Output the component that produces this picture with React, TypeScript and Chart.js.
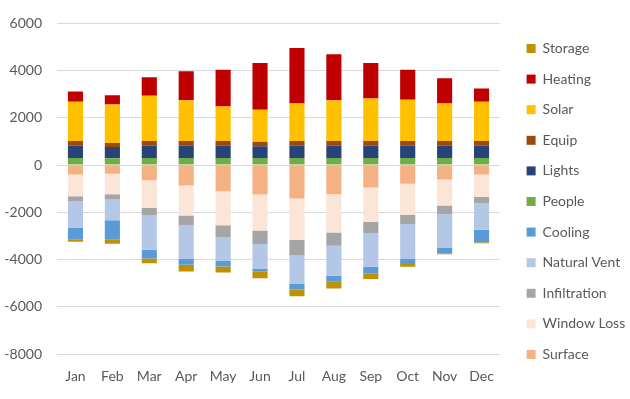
import React, { useEffect, useRef } from "react";
import { Chart, registerables } from "chart.js";
Chart.register(...registerables);

const months = ["Jan", "Feb", "Mar", "Apr", "May", "Jun", "Jul", "Aug", "Sep", "Oct", "Nov", "Dec"];

// Series in Excel order (stacking order from zero outward)
const surface = [-400, -370, -640, -865, -1105, -1250, -1420, -1235, -950, -795, -610, -400];
const windowLoss = [-920, -865, -1180, -1275, -1445, -1515, -1745, -1615, -1445, -1305, -1105, -950];
const infiltration = [-210, -225, -310, -410, -495, -580, -640, -565, -485, -400, -355, -255];
const naturalVent = [-1135, -880, -1460, -1405, -1020, -1035, -1235, -1275, -1420, -1460, -1445, -1135];
const cooling = [-500, -820, -370, -270, -225, -140, -225, -255, -285, -225, -215, -525];
const people = [300, 290, 300, 300, 300, 300, 300, 300, 300, 300, 300, 300];
const lights = [520, 480, 520, 520, 520, 500, 520, 520, 520, 520, 520, 520];
const equip = [200, 170, 200, 200, 200, 190, 200, 200, 200, 200, 200, 200];
const solar = [1660, 1630, 1915, 1730, 1460, 1350, 1590, 1730, 1800, 1745, 1590, 1660];
const heating = [440, 390, 780, 1220, 1560, 1985, 2350, 1940, 1500, 1275, 1065, 565];
const storage = [-85, -170, -200, -285, -255, -270, -285, -285, -240, -115, -45, -40];

const yTicks = [-8000, -6000, -4000, -2000, 0, 2000, 4000, 6000];

const FONT = "Lato";
const TEXT = "#595959";

const legendPlace = {
  id: "legendPlace",
  beforeLayout(chart: any) {
    const lg = chart.legend;
    if (lg && !lg.__patched) {
      const orig = lg.fit;
      lg.fit = function () {
        orig.call(this);
        this.width = 130;
      };
      lg.__patched = true;
    }
  },
  afterLayout(chart: any) {
    const lg = chart.legend;
    if (!lg) return;
    const dx = 10;
    const dy = -8;
    lg.left += dx;
    lg.right += dx;
    lg.top += dy;
    lg.bottom += dy;
  },
};

export default function App() {
  const ref = useRef<HTMLCanvasElement | null>(null);
  useEffect(() => {
    if (!ref.current) return;
    const series: [string, number[], string][] = [
      ["Surface", surface, "#F4B183"],
      ["Window Loss", windowLoss, "#FBE5D6"],
      ["Infiltration", infiltration, "#A5A5A5"],
      ["Natural Vent", naturalVent, "#B4C7E7"],
      ["Cooling", cooling, "#5B9BD5"],
      ["People", people, "#70AD47"],
      ["Lights", lights, "#264478"],
      ["Equip", equip, "#9E480E"],
      ["Solar", solar, "#FFC000"],
      ["Heating", heating, "#C00000"],
      ["Storage", storage, "#BF9000"],
    ];
    const chart = new Chart(ref.current, {
      type: "bar",
      data: {
        labels: months,
        datasets: series.map(([label, data, color]) => ({
          label,
          data,
          backgroundColor: color,
          borderWidth: 0,
          barPercentage: 1,
          categoryPercentage: 0.41,
        })),
      },
      plugins: [legendPlace],
      options: {
        responsive: false,
        animation: false,
        layout: { padding: { top: 20, bottom: 0, left: 0, right: 0 } },
        plugins: {
          tooltip: { enabled: false },
          legend: {
            position: "right",
            reverse: true,
            labels: {
              boxWidth: 9,
              boxHeight: 9,
              padding: 16.6,
              color: TEXT,
              font: { family: FONT, size: 14 },
            },
          },
        },
        scales: {
          x: {
            stacked: true,
            grid: { display: false, drawTicks: false },
            border: { display: false },
            ticks: { color: TEXT, font: { family: FONT, size: 14 }, padding: 14 },
            afterFit: (axis: any) => {
              axis.height = 45;
            },
          },
          y: {
            stacked: true,
            min: -8000,
            max: 6000,
            afterBuildTicks: (axis: any) => {
              axis.ticks = yTicks.map((v) => ({ value: v }));
            },
            grid: { color: "#D9D9D9", drawTicks: false, lineWidth: 1 },
            border: { display: false },
            ticks: {
              color: TEXT,
              font: { family: FONT, size: 14 },
              padding: 15,
              callback: (v: any) => String(v),
            },
            afterFit: (axis: any) => {
              axis.width = 57;
            },
          },
        },
      },
    });
    return () => chart.destroy();
  }, []);
  return (
    <div style={{ position: "fixed", left: 0, top: 0, width: 630, height: 399, background: "#fff" }}>
      <canvas ref={ref} width={630} height={399} />
    </div>
  );
}
